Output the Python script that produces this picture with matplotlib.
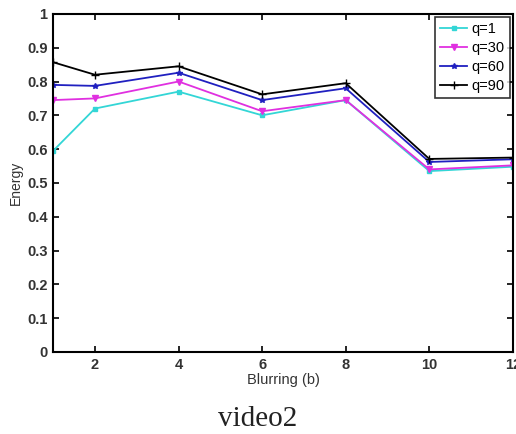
import matplotlib
matplotlib.use('Agg')
import matplotlib.pyplot as plt

blur = [1, 2, 4, 6, 8, 10, 12]
q1 = [0.595, 0.72, 0.77, 0.70, 0.745, 0.535, 0.548]
q30 = [0.745, 0.75, 0.80, 0.712, 0.745, 0.54, 0.552]
q60 = [0.79, 0.787, 0.826, 0.745, 0.78, 0.562, 0.57]
q90 = [0.857, 0.82, 0.845, 0.762, 0.795, 0.571, 0.575]

plt.rcParams['font.family'] = ['Liberation Sans', 'DejaVu Sans']

fig = plt.figure(figsize=(5.16, 4.34), dpi=100)
ax = fig.add_axes([0.103, 0.189, 0.891, 0.779])

ax.plot(blur, q1, color='#33d6d6', marker='s', markersize=3.5, lw=1.3, label='q=1')
ax.plot(blur, q30, color='#e030e0', marker='v', markersize=4, lw=1.3, label='q=30')
ax.plot(blur, q60, color='#2020c0', marker='*', markersize=4, lw=1.3, label='q=60')
ax.plot(blur, q90, color='black', marker='+', markersize=6, lw=1.3, label='q=90')

ax.set_xlim(1, 12)
ax.set_ylim(0, 1)
ax.set_xticks([2, 4, 6, 8, 10, 12])
ax.set_yticks([0, 0.1, 0.2, 0.3, 0.4, 0.5, 0.6, 0.7, 0.8, 0.9, 1])
ax.set_yticklabels(['0', '0.1', '0.2', '0.3', '0.4', '0.5', '0.6', '0.7', '0.8', '0.9', '1'])
ax.tick_params(direction='in', top=True, right=True, labelsize=10.5, length=4, width=1.2, pad=4)
for t in ax.get_xticklabels() + ax.get_yticklabels():
    t.set_fontweight('bold')
    t.set_color('#333333')
for s in ax.spines.values():
    s.set_linewidth(1.5)

ax.set_xlabel('Blurring (b)', fontsize=10.5, labelpad=1, color='#333333')
ax.set_ylabel('Energy', fontsize=10, labelpad=3, color='#333333')

leg = ax.legend(loc='upper right', fontsize=10.5, frameon=True, fancybox=False,
                edgecolor='black', handlelength=1.9, handletextpad=0.3,
                borderaxespad=0.2, borderpad=0.35, labelspacing=0.35)
leg.get_frame().set_linewidth(1.2)

fig.text(0.5, 0.035, 'video2', family='Liberation Serif', fontsize=21,
         ha='center', va='center', color='#222222')

fig.savefig('out.png')
